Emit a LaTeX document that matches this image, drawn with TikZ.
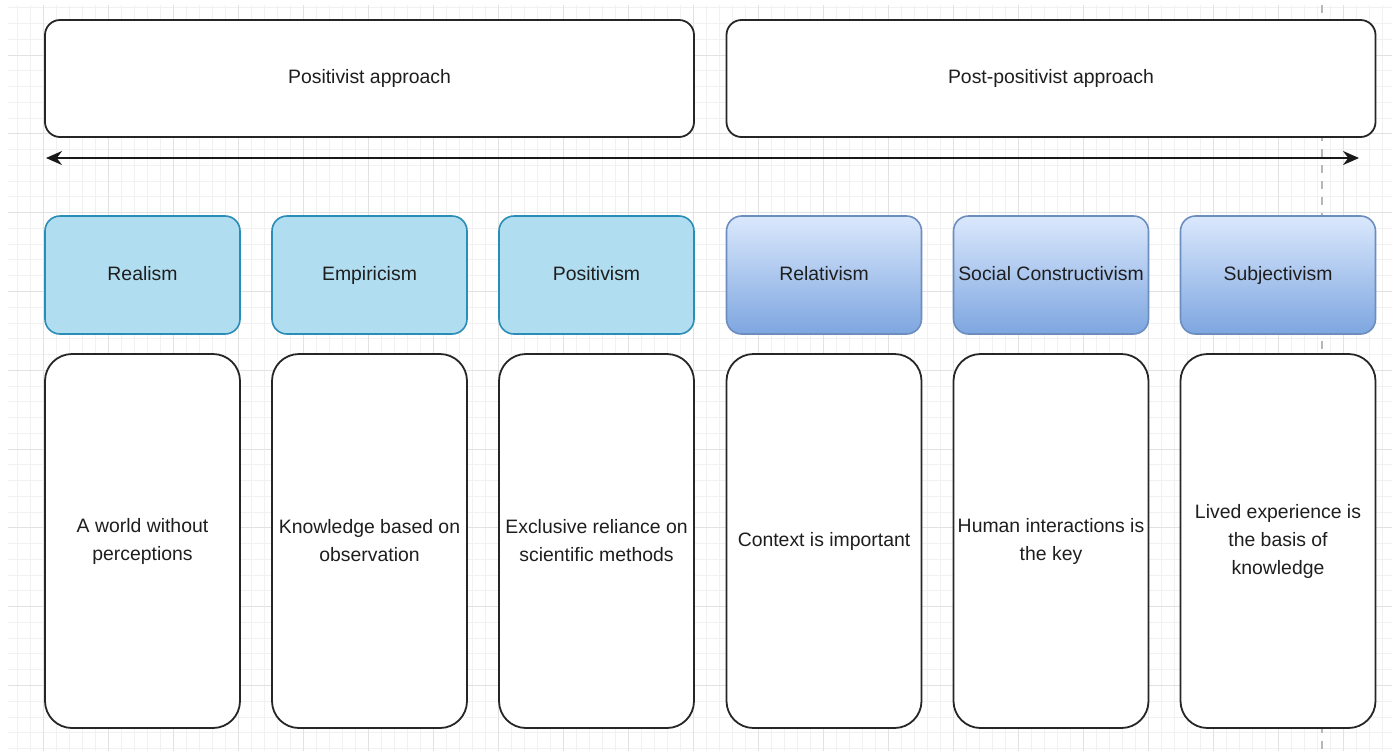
\documentclass[tikz,border=0pt]{standalone}
\usepackage{fontspec}
\setmainfont{Liberation Sans}
\usetikzlibrary{arrows.meta}
\definecolor{minorg}{HTML}{F1F1F1}
\definecolor{majorg}{HTML}{E2E2E2}
\definecolor{cyanfill}{HTML}{B1DDF0}
\definecolor{cyanline}{HTML}{2A8DB8}
\definecolor{gradtop}{HTML}{DAE8FC}
\definecolor{gradbot}{HTML}{7EA6E0}
\definecolor{gradline}{HTML}{6C8EBF}
\definecolor{txt}{HTML}{1E1E1E}
\definecolor{guidec}{HTML}{B8B8B8}
\begin{document}
\begin{tikzpicture}[x=0.5pt,y=-0.5pt,
  minorgrid/.style={draw=minorg,line width=0.4pt},
  majorgrid/.style={draw=majorg,line width=0.5pt},
  guide/.style={draw=guidec,line width=0.6pt,dash pattern=on 4pt off 4pt},
  basebox/.style={rectangle,font=\fontsize{9.7}{14}\selectfont,text=txt,inner sep=1pt},
  onel/.style={text height=7pt,text depth=2pt},
  topbox/.style={basebox,onel,draw=black!85,fill=white,line width=0.9pt,rounded corners=7.5pt,minimum width=324.5pt,minimum height=58.5pt},
  cyanbox/.style={basebox,onel,draw=cyanline,fill=cyanfill,line width=0.8pt,rounded corners=7.5pt,minimum width=97.5pt,minimum height=59pt},
  gradbox/.style={basebox,onel,draw=gradline,top color=gradtop,bottom color=gradbot,line width=0.8pt,rounded corners=7.5pt,minimum width=97.5pt,minimum height=59pt},
  descbox/.style={basebox,align=center,draw=black!85,fill=white,line width=0.9pt,rounded corners=13.5pt,minimum width=97.5pt,minimum height=187pt},
  axis/.style={draw=black!90,line width=1pt,{Stealth[length=8pt,width=7pt]}-{Stealth[length=8pt,width=7pt]}}
]
\useasboundingbox (0,0) rectangle (1392,751);
\fill[white] (0,0) rectangle (1392,751);
\begin{scope}
\clip (8,5) rectangle (1392,751);
\foreach \i in {0,...,106} \draw[minorgrid] ({4+13*\i},5) -- ++(0,746);
\foreach \j in {0,...,47} \draw[minorgrid] (8,{7.72+15.76*\j}) -- ++(1384,0);
\foreach \i in {0,...,21} \draw[majorgrid] ({-22+65*\i},5) -- ++(0,746);
\foreach \j in {0,...,9} \draw[majorgrid] (8,{-23.8+78.8*\j}) -- ++(1384,0);
\end{scope}
\coordinate (gT) at (1322,5);
\coordinate (gB) at (1322,751);
\draw[guide] (gT) -- (gB);

\node[topbox] (pos) at (369.5,78.5) {Positivist approach};
\node[topbox] (post) at (1051,78.5) {Post-positivist approach};

\coordinate (aL) at (46,158);
\coordinate (aR) at (1359,158);
\draw[axis] (aL) -- (aR);

\node[cyanbox] (realism) at (142.5,275) {Realism};
\node[cyanbox] (empiricism) at (369.5,275) {Empiricism};
\node[cyanbox] (positivism) at (596.5,275) {Positivism};
\node[gradbox] (relativism) at (824,275) {Relativism};
\node[gradbox] (socialc) at (1051,275) {Social Constructivism};
\node[gradbox] (subjectivism) at (1278,275) {Subjectivism};

\node[descbox] (d1) at (142.5,541) {A world without\\perceptions};
\node[descbox] (d2) at (369.5,541) {Knowledge based on\\observation};
\node[descbox] (d3) at (596.5,541) {Exclusive reliance on\\scientific methods};
\node[descbox] (d4) at (824,541) {Context is important};
\node[descbox] (d5) at (1051,541) {Human interactions is\\the key};
\node[descbox] (d6) at (1278,541) {Lived experience is\\the basis of\\knowledge};
\end{tikzpicture}
\end{document}
